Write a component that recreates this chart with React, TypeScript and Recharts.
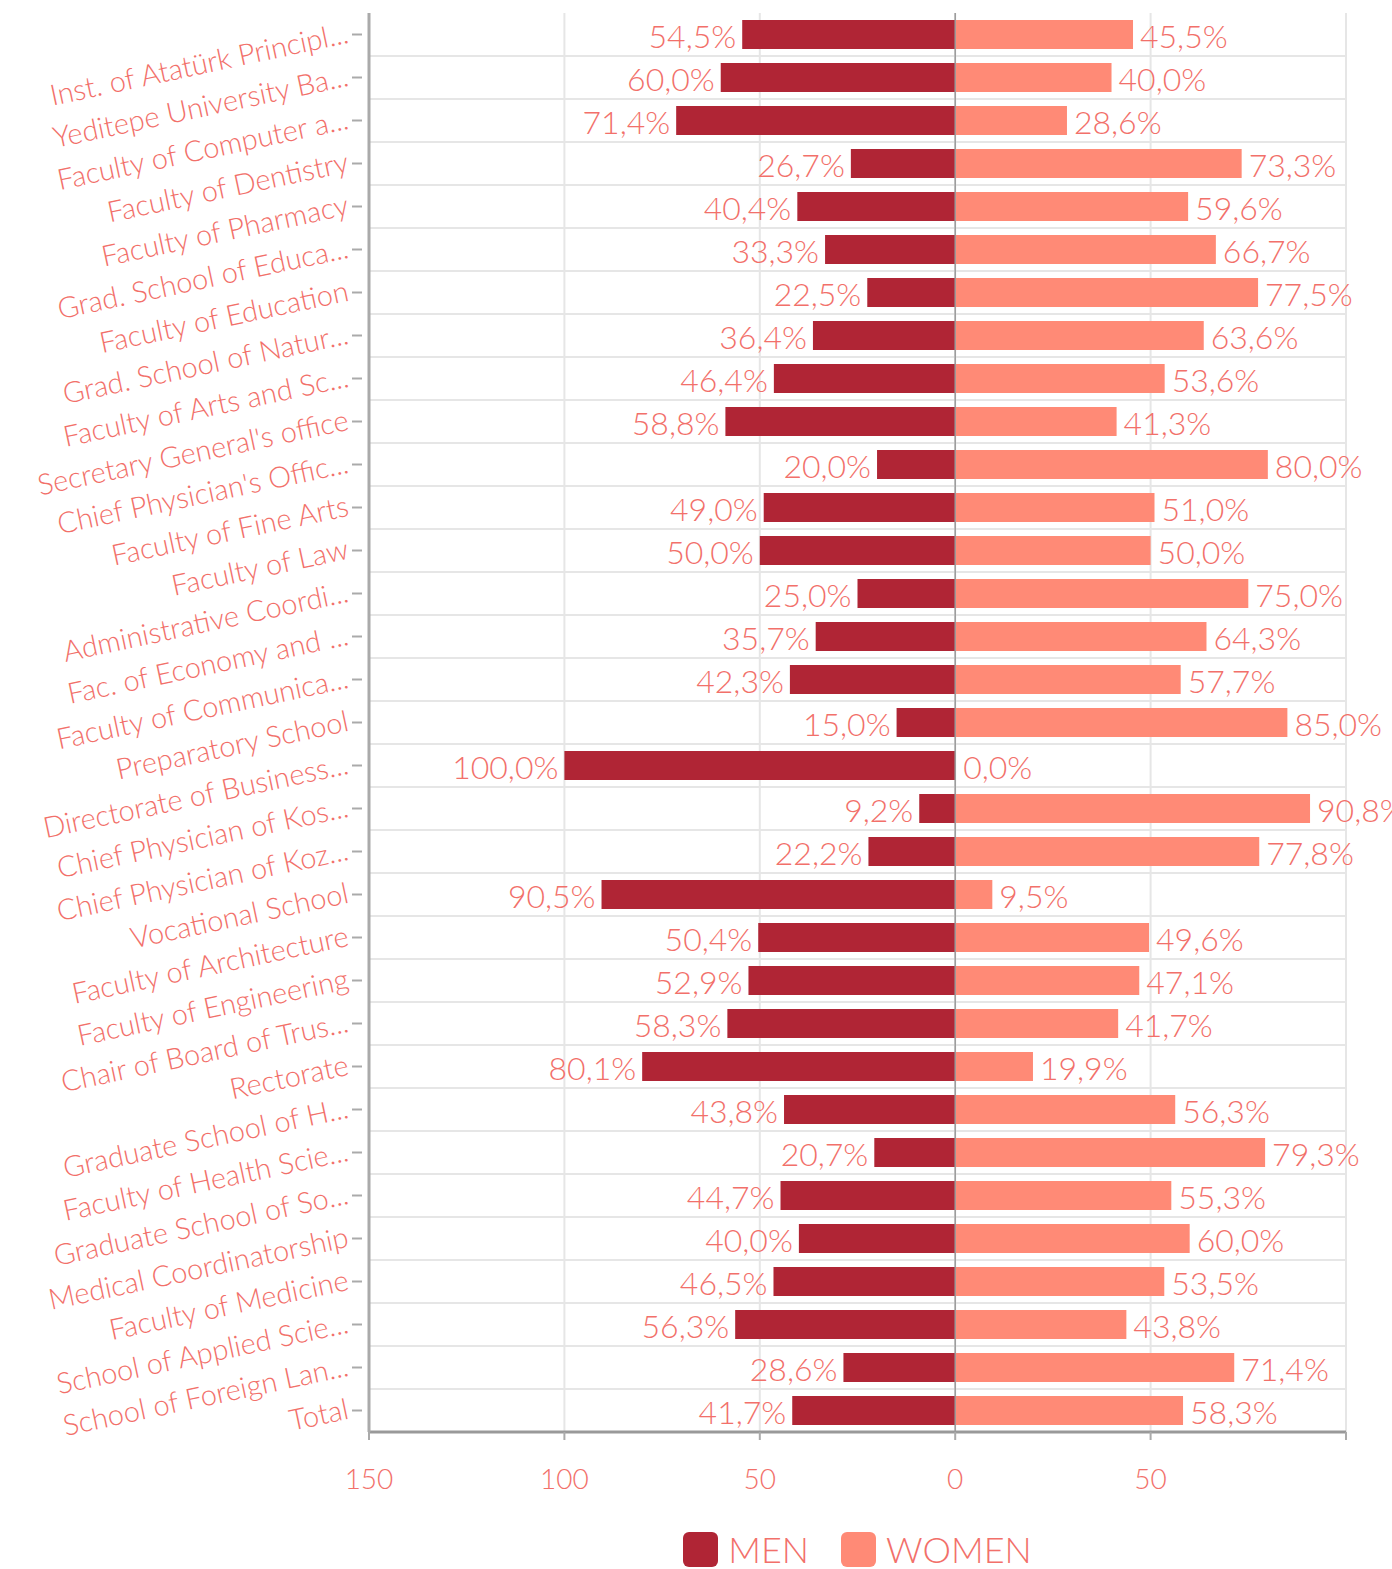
import React from "react";
import {
  Bar,
  BarChart,
  CartesianGrid,
  LabelList,
  Legend,
  XAxis,
  YAxis,
  ReferenceLine,
} from "recharts";

const units = [
  "Inst. of Atatürk Principl...",
  "Yeditepe University Ba...",
  "Faculty of Computer a...",
  "Faculty of Dentistry",
  "Faculty of Pharmacy",
  "Grad. School of Educa...",
  "Faculty of Education",
  "Grad. School of Natur...",
  "Faculty of Arts and Sc...",
  "Secretary General's office",
  "Chief Physician's Offic...",
  "Faculty of Fine Arts",
  "Faculty of Law",
  "Administrative Coordi...",
  "Fac. of Economy and ...",
  "Faculty of Communica...",
  "Preparatory School",
  "Directorate of Business...",
  "Chief Physician of Kos...",
  "Chief Physician of Koz...",
  "Vocational School",
  "Faculty of Architecture",
  "Faculty of Engineering",
  "Chair of Board of Trus...",
  "Rectorate",
  "Graduate School of H...",
  "Faculty of Health Scie...",
  "Graduate School of So...",
  "Medical Coordinatorship",
  "Faculty of Medicine",
  "School of Applied Scie...",
  "School of Foreign Lan...",
  "Total",
];

const menShare = [
  54.5, 60.0, 71.4, 26.7, 40.4, 33.3, 22.5, 36.4, 46.4, 58.8, 20.0, 49.0, 50.0,
  25.0, 35.7, 42.3, 15.0, 100.0, 9.2, 22.2, 90.5, 50.4, 52.9, 58.3, 80.1, 43.8,
  20.7, 44.7, 40.0, 46.5, 56.3, 28.6, 41.7,
];

const womenShare = [
  45.5, 40.0, 28.6, 73.3, 59.6, 66.7, 77.5, 63.6, 53.6, 41.3, 80.0, 51.0, 50.0,
  75.0, 64.3, 57.7, 85.0, 0.0, 90.8, 77.8, 9.5, 49.6, 47.1, 41.7, 19.9, 56.3,
  79.3, 55.3, 60.0, 53.5, 43.8, 71.4, 58.3,
];

const xTicks = [-150, -100, -50, 0, 50, 100];

const MEN_COLOR = "#B02535";
const WOMEN_COLOR = "#FF8A76";
const TEXT_COLOR = "#F2706A";
const FONT = "Lato, 'Open Sans', sans-serif";

const fmtPct = (v: number) => `${Math.abs(v).toFixed(1).replace(".", ",")}%`;

function CategoryTick(props: any) {
  const { x, y, payload } = props;
  // x sits a few px left of the axis line; keep the little dash detached from it
  const ax = x + 8;
  return (
    <g>
      <line x1={ax - 17} x2={ax - 7} y1={y} y2={y} stroke="#aaa" strokeWidth={2} />
      <text
        x={ax - 19}
        y={y + 8}
        textAnchor="end"
        fill={TEXT_COLOR}
        fontSize={29}
        fontWeight={300}
        fontFamily={FONT}
        transform={`rotate(-12, ${ax - 19}, ${y + 8})`}
      >
        {payload.value}
      </text>
    </g>
  );
}

function PctText({ x, y, anchor, value }: any) {
  return (
    <text
      x={x}
      y={y}
      dy="0.42em"
      textAnchor={anchor}
      fill={TEXT_COLOR}
      fontSize={32}
      fontWeight={300}
      fontFamily={FONT}
    >
      {fmtPct(value)}
    </text>
  );
}

function MenLabel(props: any) {
  const { x, y, width, height, value } = props;
  const left = Math.min(x, x + width);
  return <PctText x={left - 6} y={y + height / 2} anchor="end" value={value} />;
}

function WomenLabel(props: any) {
  const { x, y, width, height, value } = props;
  if (value === 0) return null;
  const right = Math.max(x, x + width);
  return <PctText x={right + 7} y={y + height / 2} anchor="start" value={value} />;
}

// zero-width women bars get no label from their own series, so draw it from the men bar's zero end
function ZeroWomenLabel(props: any) {
  const { x, y, width, height, value } = props;
  if (value !== 0) return null;
  const zero = Math.max(x, x + width);
  return <PctText x={zero + 8} y={y + height / 2} anchor="start" value={value} />;
}

function LegendContent() {
  const items = [
    { label: "MEN", color: MEN_COLOR },
    { label: "WOMEN", color: WOMEN_COLOR },
  ];
  return (
    <div
      style={{
        display: "flex",
        justifyContent: "center",
        alignItems: "center",
        height: 50,
        marginLeft: 369,
        width: 977,
      }}
    >
      {items.map((it, i) => (
        <div
          key={it.label}
          style={{ display: "flex", alignItems: "center", marginLeft: i ? 32 : 0 }}
        >
          <span
            style={{
              display: "inline-block",
              width: 35,
              height: 35,
              borderRadius: 6,
              background: it.color,
              marginRight: 10,
            }}
          />
          <span
            style={{
              color: TEXT_COLOR,
              fontFamily: FONT,
              fontWeight: 300,
              fontSize: 36,
              lineHeight: "36px",
            }}
          >
            {it.label}
          </span>
        </div>
      ))}
    </div>
  );
}

export default function App() {
  const data = units.map((name, i) => ({
    name,
    men: -menShare[i],
    women: womenShare[i],
  }));

  return (
    <div
      style={{
        position: "absolute",
        left: 0,
        top: 0,
        width: 1392,
        height: 1569,
        background: "#fff",
      }}
    >
      <BarChart
        width={1392}
        height={1569}
        data={data}
        layout="vertical"
        stackOffset="sign"
        barSize={29}
        margin={{ top: 13, right: 46, left: 0, bottom: 8 }}
      >
        <CartesianGrid
          stroke="#e6e6e6"
          strokeWidth={2}
          horizontalCoordinatesGenerator={({ offset }: any) =>
            units
              .slice(1)
              .map((_, i) => offset.top + ((i + 1) * offset.height) / units.length)
          }
        />
        <XAxis
          type="number"
          domain={[-150, 100]}
          ticks={xTicks}
          tickFormatter={(v: number) => (v === 100 ? "" : String(Math.abs(v)))}
          height={79}
          tickSize={8}
          tickMargin={29}
          axisLine={{ stroke: "#999", strokeWidth: 3 }}
          tickLine={{ stroke: "#aaa", strokeWidth: 2 }}
          tick={{ fill: TEXT_COLOR, fontSize: 28, fontWeight: 300, fontFamily: FONT }}
        />
        <YAxis
          type="category"
          dataKey="name"
          width={369}
          interval={0}
          tickLine={false}
          axisLine={{ stroke: "#aaa", strokeWidth: 3 }}
          tick={<CategoryTick />}
        />
        <Bar dataKey="men" name="MEN" stackId="g" fill={MEN_COLOR} isAnimationActive={false}>
          <LabelList dataKey="men" content={<MenLabel />} />
          <LabelList dataKey="women" content={<ZeroWomenLabel />} />
        </Bar>
        <Bar
          dataKey="women"
          name="WOMEN"
          stackId="g"
          fill={WOMEN_COLOR}
          isAnimationActive={false}
        >
          <LabelList dataKey="women" content={<WomenLabel />} />
        </Bar>
        <ReferenceLine x={0} stroke="#999" strokeWidth={1.5} />
        <Legend
          verticalAlign="bottom"
          content={<LegendContent />}
          wrapperStyle={{ top: 1524, left: 0, width: 1392, height: 50 }}
        />
      </BarChart>
    </div>
  );
}
